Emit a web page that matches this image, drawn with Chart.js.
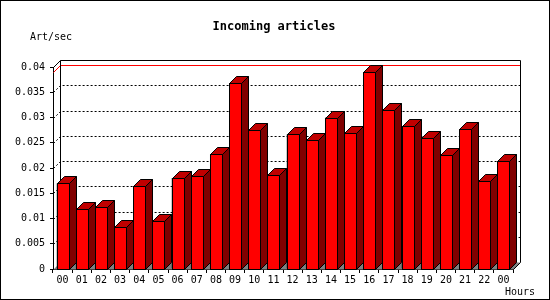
<!DOCTYPE html>
<html>
<head>
<meta charset="utf-8">
<script src="https://cdn.jsdelivr.net/npm/chart.js@4/dist/chart.umd.min.js"></script>
<style>
  body { margin: 0; background: #fff; }
  canvas { display: block; }
</style>
</head>
<body>
<canvas id="chart" width="550" height="300"></canvas>
<script>
// data
var hours = ['00', '01', '02', '03', '04', '05', '06', '07', '08', '09', '10', '11',
             '12', '13', '14', '15', '16', '17', '18', '19', '20', '21', '22', '00'];
var artPerSec = [0.0170, 0.0118, 0.0122, 0.0083, 0.0164, 0.0096, 0.0180, 0.0184,
                 0.0227, 0.0368, 0.0275, 0.0186, 0.0267, 0.0255, 0.0300, 0.0269,
                 0.0390, 0.0314, 0.0283, 0.0259, 0.0225, 0.0277, 0.0174, 0.0213];
var yMax = 0.04;
var yStep = 0.005;
var maxLine = Math.max.apply(null, artPerSec);

var DEPTH = 7;
var MONO = '"DejaVu Sans Mono", "Liberation Mono", monospace';

function px(v) { return Math.round(v) + 0.5; }

// 3D look: back wall, floor, dotted grid, bar tops and sides
var bars3d = {
    id: 'bars3d',
    beforeDatasetsDraw: function(chart) {
        var ctx = chart.ctx, a = chart.chartArea, ys = chart.scales.y;
        var L = px(a.left), R = px(a.right), T = px(a.top), B = px(a.bottom);
        ctx.save();
        // floor
        ctx.fillStyle = '#808080';
        ctx.beginPath();
        ctx.moveTo(L, B);
        ctx.lineTo(L + DEPTH, B - DEPTH);
        ctx.lineTo(R + DEPTH, B - DEPTH);
        ctx.lineTo(R, B);
        ctx.closePath();
        ctx.fill();

        // dotted grid lines on the back wall
        ctx.strokeStyle = '#000';
        ctx.lineWidth = 1;
        ctx.setLineDash([2, 2]);
        for (var v = yStep; v < yMax - yStep / 2; v += yStep) {
            var y = px(ys.getPixelForValue(v));
            ctx.beginPath();
            ctx.moveTo(L, y);
            ctx.lineTo(L + DEPTH, y - DEPTH);
            ctx.lineTo(R + DEPTH, y - DEPTH);
            ctx.stroke();
        }
        ctx.setLineDash([]);

        // red line at the max value
        var ym = px(ys.getPixelForValue(maxLine));
        ctx.strokeStyle = '#ff0000';
        ctx.beginPath();
        ctx.moveTo(L, ym);
        ctx.lineTo(L + DEPTH, ym - DEPTH);
        ctx.lineTo(R + DEPTH, ym - DEPTH);
        ctx.stroke();

        // back wall outline
        ctx.strokeStyle = '#000';
        ctx.beginPath();
        ctx.moveTo(L, T);
        ctx.lineTo(L + DEPTH, T - DEPTH);
        ctx.lineTo(R + DEPTH, T - DEPTH);
        ctx.lineTo(R + DEPTH, B - DEPTH);
        ctx.lineTo(R, B);
        ctx.moveTo(L + DEPTH, T - DEPTH);
        ctx.lineTo(L + DEPTH, B - DEPTH);
        ctx.stroke();
        ctx.restore();
    },
    afterDatasetsDraw: function(chart) {
        var ctx = chart.ctx;
        var meta = chart.getDatasetMeta(0);
        ctx.save();
        ctx.strokeStyle = '#000';
        ctx.lineWidth = 1;
        meta.data.forEach(function(bar) {
            var p = bar.getProps(['x', 'y', 'base', 'width'], true);
            var l = px(p.x - p.width / 2), r = px(p.x + p.width / 2);
            var t = px(p.y), b = px(p.base);
            // front
            ctx.fillStyle = '#ff0000';
            ctx.fillRect(l, t, r - l, b - t);
            ctx.strokeRect(l, t, r - l, b - t);
            // top
            ctx.fillStyle = '#c00000';
            ctx.beginPath();
            ctx.moveTo(l, t);
            ctx.lineTo(l + DEPTH, t - DEPTH);
            ctx.lineTo(r + DEPTH, t - DEPTH);
            ctx.lineTo(r, t);
            ctx.closePath();
            ctx.fill();
            ctx.stroke();
            // side
            ctx.fillStyle = '#800000';
            ctx.beginPath();
            ctx.moveTo(r, t);
            ctx.lineTo(r + DEPTH, t - DEPTH);
            ctx.lineTo(r + DEPTH, b - DEPTH);
            ctx.lineTo(r, b);
            ctx.closePath();
            ctx.fill();
            ctx.stroke();
        });
        ctx.restore();
    },
    afterDraw: function(chart) {
        var ctx = chart.ctx;
        ctx.save();
        ctx.fillStyle = '#000';
        ctx.textBaseline = 'middle';
        ctx.font = 'bold 12px ' + MONO;
        ctx.textAlign = 'center';
        ctx.fillText('Incoming articles', 274, 27);
        ctx.font = '10px ' + MONO;
        ctx.textAlign = 'left';
        ctx.fillText('Art/sec', 30, 37);
        ctx.fillText('Hours', 505, 292);
        // image frame
        ctx.strokeStyle = '#000';
        ctx.strokeRect(0.5, 0.5, chart.width - 1, chart.height - 1);
        ctx.restore();
    }
};

var ctx = document.getElementById('chart').getContext('2d');
var chart = new Chart(ctx, {
    type: 'bar',
    data: {
        labels: hours,
        datasets: [{
            label: 'Art/sec',
            data: artPerSec,
            backgroundColor: '#ff0000',
            borderColor: '#000000',
            borderWidth: 1,
            barPercentage: 0.63,
            categoryPercentage: 1.0
        }]
    },
    options: {
        responsive: false,
        animation: false,
        devicePixelRatio: 1,
        layout: { padding: { top: 67, right: 37, bottom: 0, left: 0 } },
        plugins: {
            legend: { display: false },
            title: { display: false },
            tooltip: { enabled: false }
        },
        scales: {
            x: {
                afterFit: function(s) { s.height = 31; },
                grid: { drawOnChartArea: false, tickLength: 4, color: '#000' },
                border: { color: '#000' },
                ticks: {
                    autoSkip: false,
                    maxRotation: 0,
                    padding: 1,
                    color: '#000',
                    font: { family: MONO, size: 10 }
                }
            },
            y: {
                min: 0,
                max: yMax,
                afterFit: function(s) { s.width = 53; },
                grid: { drawOnChartArea: false, tickLength: 3, color: '#000' },
                border: { color: '#000' },
                ticks: {
                    stepSize: yStep,
                    padding: 5,
                    color: '#000',
                    font: { family: MONO, size: 10 },
                    callback: function(v) { return String(+v.toFixed(3)); }
                }
            }
        }
    },
    plugins: [bars3d]
});
</script>
</body>
</html>
